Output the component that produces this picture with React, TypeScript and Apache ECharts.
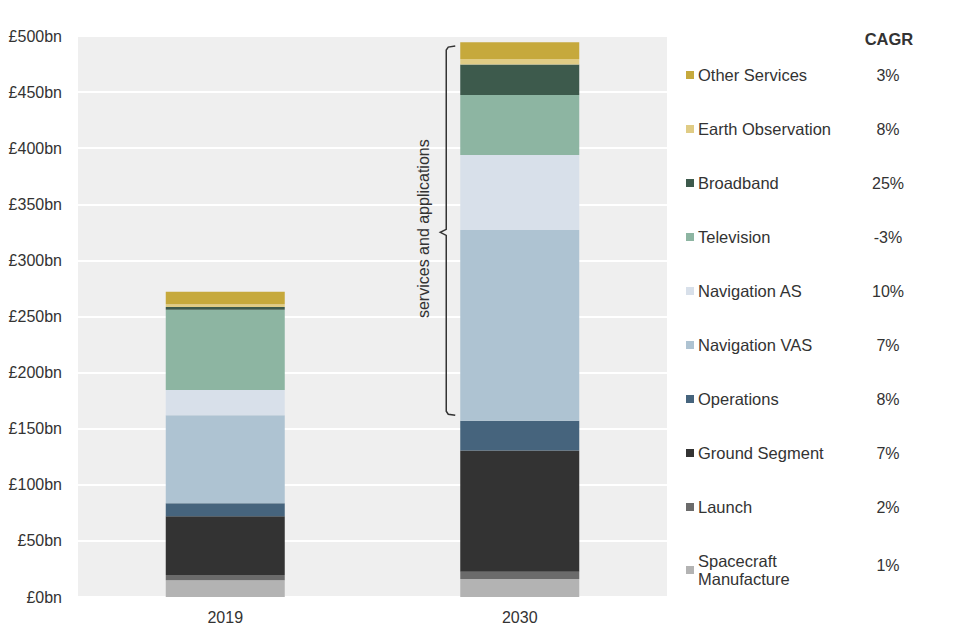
import React, { useEffect, useRef } from "react";
import * as echarts from "echarts";

const categories = ["2019", "2030"];
const seriesNames = [
  "Spacecraft Manufacture",
  "Launch",
  "Ground Segment",
  "Operations",
  "Navigation VAS",
  "Navigation AS",
  "Television",
  "Broadband",
  "Earth Observation",
  "Other Services",
];
const seriesColors = [
  "#b3b3b3",
  "#6b6b6b",
  "#333333",
  "#46647d",
  "#aec3d2",
  "#d8e0ea",
  "#8db5a2",
  "#3d5a4c",
  "#e0cc85",
  "#c6a93c",
];
const values2019 = [15, 4.5, 52.5, 11.5, 78.5, 22.5, 71.5, 2.5, 2.5, 11];
const values2030 = [16, 6.5, 108, 26.5, 170, 67, 53.5, 27, 5, 15];
const cagr = ["1%", "2%", "7%", "8%", "7%", "10%", "-3%", "25%", "8%", "3%"];
const yTicks = [0, 50, 100, 150, 200, 250, 300, 350, 400, 450, 500];
const bracketRange = { low: 162, mid: 325, high: 491 };
const bracketLabel = "services and applications";

export default function App() {
  const ref = useRef<HTMLDivElement>(null);
  useEffect(() => {
    if (!ref.current) return;
    const chart = echarts.init(ref.current, null, { renderer: "svg" });
    const font = "Liberation Sans, Arial, sans-serif";
    const legendTop = 61;
    const legendPitch = 54;
    const legendOrder = [...seriesNames].reverse();
    const barWidth = 119;

    chart.setOption({
      animation: false,
      backgroundColor: "#ffffff",
      grid: {
        left: 78,
        right: 293,
        top: 36,
        bottom: 43,
        show: true,
        backgroundColor: "#efefef",
        borderWidth: 0,
      },
      legend: {
        orient: "vertical",
        left: 681,
        top: legendTop,
        icon: "rect",
        itemWidth: 8,
        itemHeight: 8,
        itemGap: legendPitch - 18,
        selectedMode: false,
        data: legendOrder,
        formatter: (n: string) =>
          n === "Spacecraft Manufacture" ? "Spacecraft\nManufacture" : n,
        textStyle: {
          fontFamily: font,
          fontSize: 16.5,
          color: "#333333",
          lineHeight: 18,
          padding: [0, 0, 0, -1],
        },
      },
      xAxis: {
        type: "category",
        data: categories,
        axisLine: { show: false },
        axisTick: { show: false },
        axisLabel: {
          fontFamily: font,
          fontSize: 16,
          color: "#333333",
          margin: 12,
        },
      },
      yAxis: {
        type: "value",
        min: yTicks[0],
        max: yTicks[yTicks.length - 1],
        interval: 50,
        axisLine: { show: false },
        axisTick: { show: false },
        splitLine: { lineStyle: { color: "#ffffff", width: 2 } },
        axisLabel: {
          fontFamily: font,
          fontSize: 16,
          color: "#333333",
          margin: 16,
          formatter: (v: number) => "£" + v + "bn",
        },
      },
      series: seriesNames.map((name, i) => ({
        name,
        type: "bar",
        stack: "total",
        barWidth,
        itemStyle: { color: seriesColors[i] },
        data: [values2019[i], values2030[i]],
      })),
    });

    const [xTop, yHigh] = chart.convertToPixel({ gridIndex: 0 }, [
      categories[1],
      bracketRange.high,
    ]) as number[];
    const yLow = (chart.convertToPixel({ gridIndex: 0 }, [categories[1], bracketRange.low]) as number[])[1];
    const yMid = (chart.convertToPixel({ gridIndex: 0 }, [categories[1], bracketRange.mid]) as number[])[1];
    const bx = xTop - barWidth / 2 - 14;

    const cagrTexts = legendOrder.map((n, i) => {
      const idx = seriesNames.indexOf(n);
      return {
        type: "text",
        x: 888,
        y: 75 + i * legendPitch + (n === "Spacecraft Manufacture" ? 4 : 0),
        style: {
          text: cagr[idx],
          fontFamily: font,
          fontSize: 16,
          fill: "#333333",
          align: "center",
          verticalAlign: "middle",
        },
      };
    });

    chart.setOption({
      graphic: [
        {
          type: "text",
          x: 889,
          y: 39,
          style: {
            text: "CAGR",
            fontFamily: font,
            fontSize: 16.5,
            fontWeight: "bold",
            fill: "#333333",
            align: "center",
            verticalAlign: "middle",
          },
        },
        ...cagrTexts,
        {
          type: "polyline",
          shape: {
            points: [
              [bx + 9, yHigh],
              [bx + 2, yHigh + 1],
              [bx, yHigh + 4],
              [bx, yMid - 3],
              [bx - 6, yMid],
              [bx, yMid + 3],
              [bx, yLow - 4],
              [bx + 2, yLow - 1],
              [bx + 9, yLow],
            ],
          },
          style: { stroke: "#333333", lineWidth: 1.5, fill: "none" },
        },
        {
          type: "text",
          x: bx - 23,
          y: (yHigh + yLow) / 2 - 2,
          rotation: Math.PI / 2,
          style: {
            text: bracketLabel,
            fontFamily: font,
            fontSize: 16,
            fill: "#333333",
            align: "center",
            verticalAlign: "middle",
          },
        },
      ],
    });

    return () => chart.dispose();
  }, []);
  return (
    <div
      ref={ref}
      style={{ position: "absolute", left: 0, top: 0, width: 960, height: 640 }}
    />
  );
}
